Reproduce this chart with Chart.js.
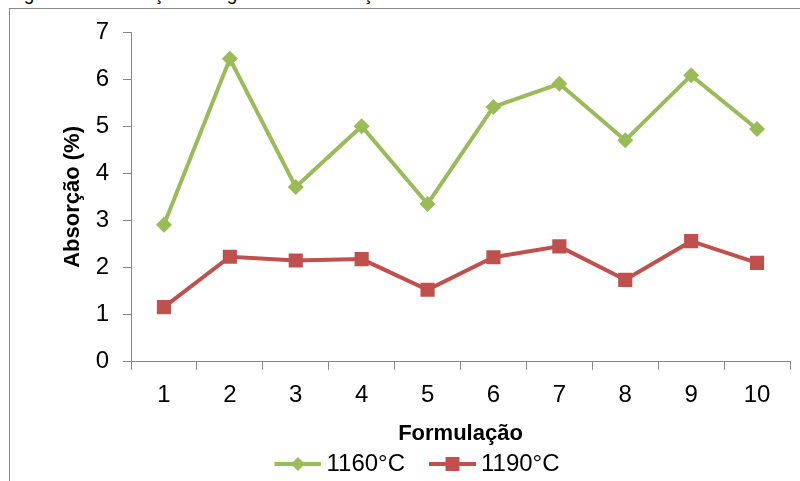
<!DOCTYPE html>
<html>
<head>
<meta charset="utf-8">
<script src="https://cdn.jsdelivr.net/npm/chart.js@4.4.0/dist/chart.umd.min.js"></script>
<style>
    body { margin: 0; background: #fff; overflow: hidden; }
    #wrap { position: relative; width: 800px; height: 481px; }
    #frame { position: absolute; left: 9px; top: 8px; width: 800px; height: 480px; border-left: 1px solid #888; border-top: 1px solid #888; }
    #figtitle { position: absolute; left: 8px; top: -16px; font: 19px "Liberation Sans", Arial, sans-serif; line-height: 19px; white-space: nowrap; color: #000; }
    canvas { position: absolute; left: 0; top: 0; }
</style>
</head>
<body>
<div id="wrap">
    <div id="figtitle">Figura 10 - Absorção de água das formulações.</div>
    <div id="frame"></div>
    <canvas id="grafico" width="800" height="481"></canvas>
</div>
<script>
const formulacoes = ['1', '2', '3', '4', '5', '6', '7', '8', '9', '10'];
const abs1160 = [2.91, 6.43, 3.71, 5.0, 3.35, 5.41, 5.9, 4.7, 6.08, 4.94];
const abs1190 = [1.16, 2.23, 2.15, 2.18, 1.53, 2.22, 2.45, 1.74, 2.56, 2.1];
const yTicks = [0, 1, 2, 3, 4, 5, 6, 7];

const verde = '#9BBB59';
const vermelho = '#C0504D';
const cinza = '#868686';
const fonte = '"Liberation Sans", Arial, sans-serif';

// icone da legenda: linha com o marcador no meio
function iconeLegenda(cor, tipo) {
    const c = document.createElement('canvas');
    c.width = 74;
    c.height = 20;
    const ctx = c.getContext('2d');
    ctx.strokeStyle = cor;
    ctx.fillStyle = cor;
    ctx.lineWidth = 4;
    ctx.beginPath();
    ctx.moveTo(27, 10);
    ctx.lineTo(74, 10);
    ctx.stroke();
    const cx = 50.5;
    if (tipo === 'diamond') {
        ctx.beginPath();
        ctx.moveTo(cx, 3);
        ctx.lineTo(cx + 7, 10);
        ctx.lineTo(cx, 17);
        ctx.lineTo(cx - 7, 10);
        ctx.closePath();
        ctx.fill();
    } else {
        ctx.fillRect(cx - 7, 3, 14, 14);
    }
    return c;
}
const icones = [iconeLegenda(verde, 'diamond'), iconeLegenda(vermelho, 'square')];

const ctx = document.getElementById('grafico');
new Chart(ctx, {
    type: 'line',
    data: {
        labels: formulacoes,
        datasets: [
            {
                label: '1160°C',
                data: abs1160,
                borderColor: verde,
                backgroundColor: verde,
                borderWidth: 4,
                pointStyle: 'rectRot',
                pointRadius: 8,
                pointBorderWidth: 0,
                tension: 0
            },
            {
                label: '1190°C',
                data: abs1190,
                borderColor: vermelho,
                backgroundColor: vermelho,
                borderWidth: 4,
                pointStyle: 'rect',
                pointRadius: 10,
                pointBorderWidth: 0,
                tension: 0
            }
        ]
    },
    options: {
        responsive: false,
        animation: false,
        layout: {
            padding: { left: 22, right: 8, top: 32, bottom: -5 }
        },
        scales: {
            x: {
                offset: true,
                grid: {
                    offset: true,
                    drawOnChartArea: false,
                    drawTicks: true,
                    tickLength: 8,
                    color: cinza
                },
                border: { color: cinza, width: 1 },
                ticks: {
                    color: '#000',
                    padding: 11,
                    font: { family: fonte, size: 24 },
                    maxRotation: 0
                },
                title: {
                    display: true,
                    text: 'Formulação',
                    color: '#000',
                    font: { family: fonte, size: 22, weight: 'bold' },
                    padding: { top: 0, bottom: 1 }
                }
            },
            y: {
                min: 0,
                max: 7,
                afterBuildTicks: (scale) => {
                    scale.ticks = yTicks.map(v => ({ value: v }));
                },
                afterFit: (scale) => {
                    scale.width = 109;
                },
                grid: {
                    drawOnChartArea: false,
                    drawTicks: true,
                    tickLength: 8,
                    color: cinza
                },
                border: { color: cinza, width: 1 },
                ticks: {
                    color: '#000',
                    padding: 14,
                    font: { family: fonte, size: 24 }
                },
                title: {
                    display: true,
                    text: 'Absorção (%)',
                    color: '#000',
                    font: { family: fonte, size: 22, weight: 'bold' },
                    padding: { top: 38, bottom: 0 }
                }
            }
        },
        plugins: {
            legend: {
                position: 'bottom',
                labels: {
                    color: '#000',
                    font: { family: fonte, size: 24 },
                    usePointStyle: true,
                    pointStyleWidth: 60,
                    padding: 4,
                    generateLabels: (chart) => {
                        const itens = Chart.defaults.plugins.legend.labels.generateLabels(chart);
                        itens.forEach((item, i) => {
                            item.pointStyle = icones[i];
                        });
                        return itens;
                    }
                }
            },
            tooltip: { enabled: false }
        }
    }
});
</script>
</body>
</html>
